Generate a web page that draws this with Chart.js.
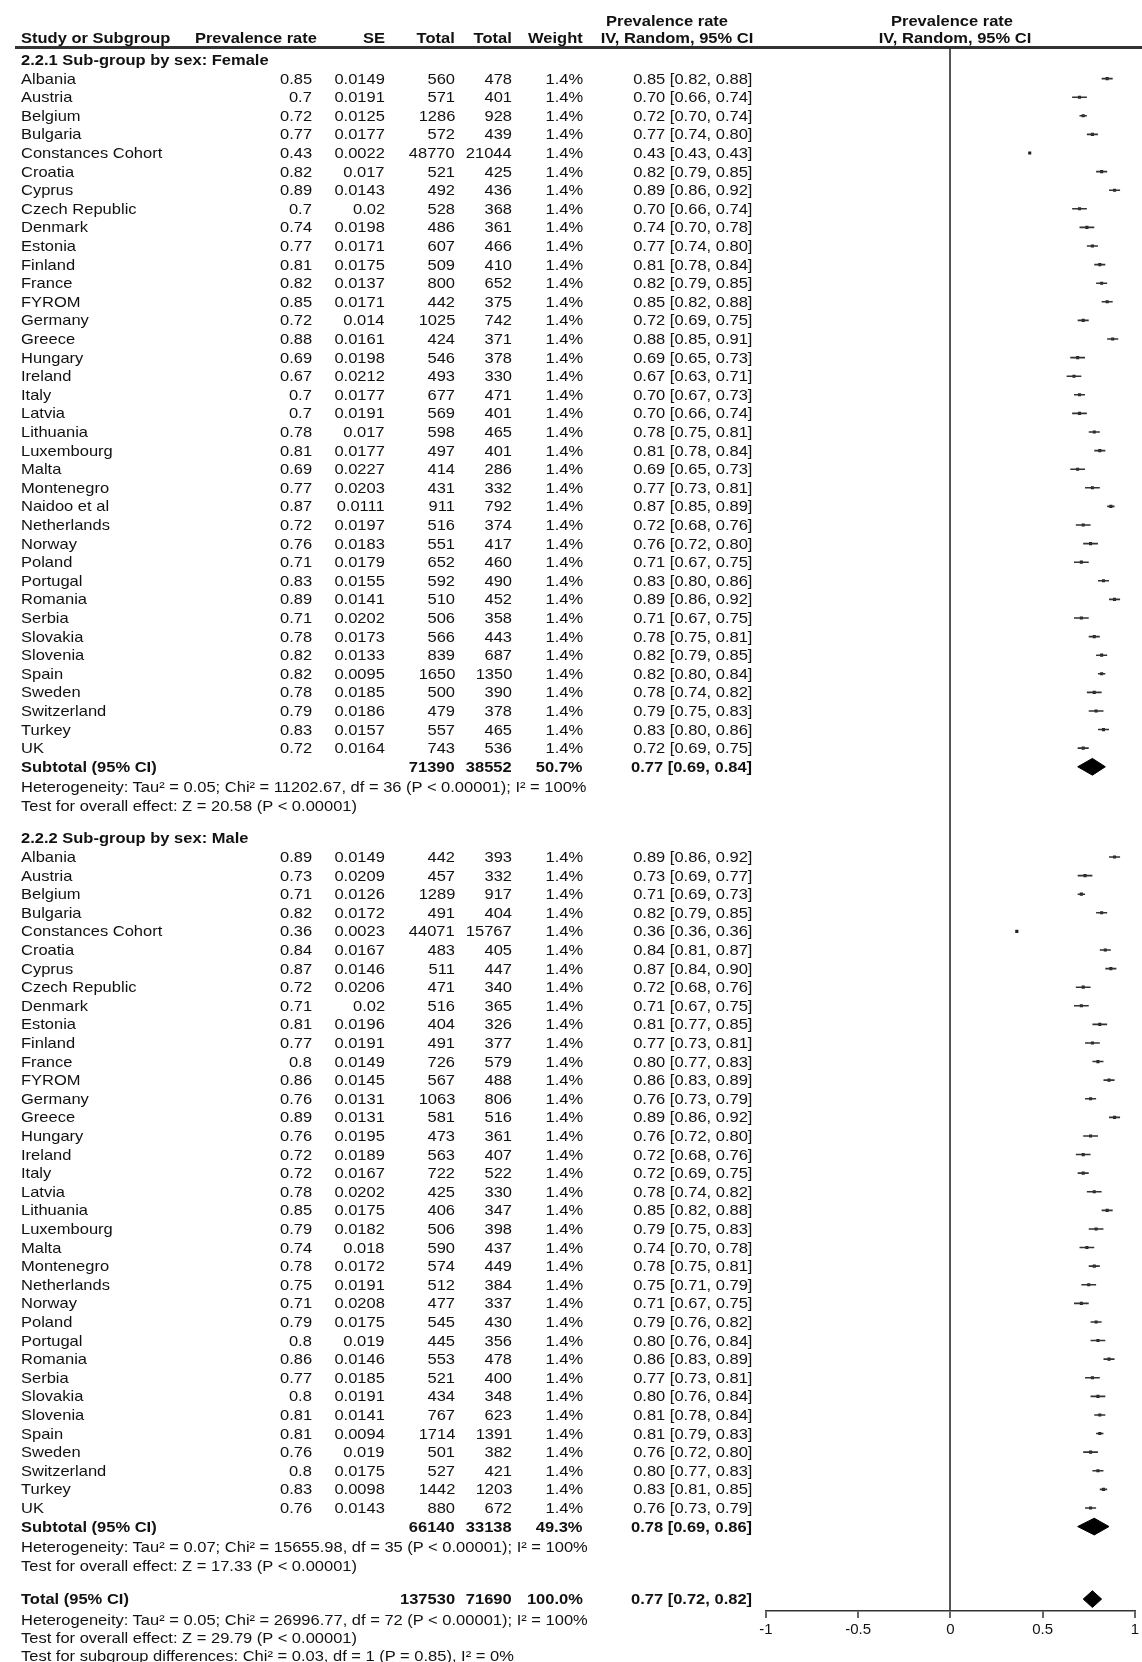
<!DOCTYPE html>
<html>
<head>
<meta charset="utf-8">
<script src="https://cdn.jsdelivr.net/npm/chart.js"></script>
<style>
  html, body { margin: 0; padding: 0; background: #fff; }
  body { width: 1142px; height: 1662px; overflow: hidden; position: relative; }
  #forest { position: absolute; left: 0; top: 0; }
  #labels { position: absolute; left: 0; top: 0; width: 1142px; height: 1662px; }
  .t { position: absolute; white-space: nowrap; height: 20px; line-height: 20px;
       font-family: "Liberation Sans", Arial, sans-serif; font-size: 15px; color: #111; }
  .b { font-weight: bold; }
  #rule { position: absolute; left: 15px; top: 46px; width: 1127px; height: 3px; background: #333; }
</style>
</head>
<body>
<canvas id="forest" width="1142" height="1662"></canvas>
<div id="rule"></div>
<div id="labels"></div>
<script>
// ---- data ----
const femaleStudies = ['Albania','Austria','Belgium','Bulgaria','Constances Cohort','Croatia','Cyprus','Czech Republic','Denmark','Estonia','Finland','France','FYROM','Germany','Greece','Hungary','Ireland','Italy','Latvia','Lithuania','Luxembourg','Malta','Montenegro','Naidoo et al','Netherlands','Norway','Poland','Portugal','Romania','Serbia','Slovakia','Slovenia','Spain','Sweden','Switzerland','Turkey','UK'];
const femaleRate = [0.85,0.7,0.72,0.77,0.43,0.82,0.89,0.7,0.74,0.77,0.81,0.82,0.85,0.72,0.88,0.69,0.67,0.7,0.7,0.78,0.81,0.69,0.77,0.87,0.72,0.76,0.71,0.83,0.89,0.71,0.78,0.82,0.82,0.78,0.79,0.83,0.72];
const femaleSE = [0.0149,0.0191,0.0125,0.0177,0.0022,0.017,0.0143,0.02,0.0198,0.0171,0.0175,0.0137,0.0171,0.014,0.0161,0.0198,0.0212,0.0177,0.0191,0.017,0.0177,0.0227,0.0203,0.0111,0.0197,0.0183,0.0179,0.0155,0.0141,0.0202,0.0173,0.0133,0.0095,0.0185,0.0186,0.0157,0.0164];
const femaleTotalA = [560,571,1286,572,48770,521,492,528,486,607,509,800,442,1025,424,546,493,677,569,598,497,414,431,911,516,551,652,592,510,506,566,839,1650,500,479,557,743];
const femaleTotalB = [478,401,928,439,21044,425,436,368,361,466,410,652,375,742,371,378,330,471,401,465,401,286,332,792,374,417,460,490,452,358,443,687,1350,390,378,465,536];
const femaleWeight = [1.4,1.4,1.4,1.4,1.4,1.4,1.4,1.4,1.4,1.4,1.4,1.4,1.4,1.4,1.4,1.4,1.4,1.4,1.4,1.4,1.4,1.4,1.4,1.4,1.4,1.4,1.4,1.4,1.4,1.4,1.4,1.4,1.4,1.4,1.4,1.4,1.4];
const femaleLow = [0.82,0.66,0.70,0.74,0.43,0.79,0.86,0.66,0.70,0.74,0.78,0.79,0.82,0.69,0.85,0.65,0.63,0.67,0.66,0.75,0.78,0.65,0.73,0.85,0.68,0.72,0.67,0.80,0.86,0.67,0.75,0.79,0.80,0.74,0.75,0.80,0.69];
const femaleHigh = [0.88,0.74,0.74,0.80,0.43,0.85,0.92,0.74,0.78,0.80,0.84,0.85,0.88,0.75,0.91,0.73,0.71,0.73,0.74,0.81,0.84,0.73,0.81,0.89,0.76,0.80,0.75,0.86,0.92,0.75,0.81,0.85,0.84,0.82,0.83,0.86,0.75];

const maleStudies = ['Albania','Austria','Belgium','Bulgaria','Constances Cohort','Croatia','Cyprus','Czech Republic','Denmark','Estonia','Finland','France','FYROM','Germany','Greece','Hungary','Ireland','Italy','Latvia','Lithuania','Luxembourg','Malta','Montenegro','Netherlands','Norway','Poland','Portugal','Romania','Serbia','Slovakia','Slovenia','Spain','Sweden','Switzerland','Turkey','UK'];
const maleRate = [0.89,0.73,0.71,0.82,0.36,0.84,0.87,0.72,0.71,0.81,0.77,0.8,0.86,0.76,0.89,0.76,0.72,0.72,0.78,0.85,0.79,0.74,0.78,0.75,0.71,0.79,0.8,0.86,0.77,0.8,0.81,0.81,0.76,0.8,0.83,0.76];
const maleSE = [0.0149,0.0209,0.0126,0.0172,0.0023,0.0167,0.0146,0.0206,0.02,0.0196,0.0191,0.0149,0.0145,0.0131,0.0131,0.0195,0.0189,0.0167,0.0202,0.0175,0.0182,0.018,0.0172,0.0191,0.0208,0.0175,0.019,0.0146,0.0185,0.0191,0.0141,0.0094,0.019,0.0175,0.0098,0.0143];
const maleTotalA = [442,457,1289,491,44071,483,511,471,516,404,491,726,567,1063,581,473,563,722,425,406,506,590,574,512,477,545,445,553,521,434,767,1714,501,527,1442,880];
const maleTotalB = [393,332,917,404,15767,405,447,340,365,326,377,579,488,806,516,361,407,522,330,347,398,437,449,384,337,430,356,478,400,348,623,1391,382,421,1203,672];
const maleWeight = [1.4,1.4,1.4,1.4,1.4,1.4,1.4,1.4,1.4,1.4,1.4,1.4,1.4,1.4,1.4,1.4,1.4,1.4,1.4,1.4,1.4,1.4,1.4,1.4,1.4,1.4,1.4,1.4,1.4,1.4,1.4,1.4,1.4,1.4,1.4,1.4];
const maleLow = [0.86,0.69,0.69,0.79,0.36,0.81,0.84,0.68,0.67,0.77,0.73,0.77,0.83,0.73,0.86,0.72,0.68,0.69,0.74,0.82,0.75,0.70,0.75,0.71,0.67,0.76,0.76,0.83,0.73,0.76,0.78,0.79,0.72,0.77,0.81,0.73];
const maleHigh = [0.92,0.77,0.73,0.85,0.36,0.87,0.90,0.76,0.75,0.85,0.81,0.83,0.89,0.79,0.92,0.80,0.76,0.75,0.82,0.88,0.83,0.78,0.81,0.79,0.75,0.82,0.84,0.89,0.81,0.84,0.84,0.83,0.80,0.83,0.85,0.79];

const groupTitles = ['2.2.1 Sub-group by sex: Female', '2.2.2 Sub-group by sex: Male'];
const subtotalEst = [0.77, 0.78];
const subtotalLow = [0.69, 0.69];
const subtotalHigh = [0.84, 0.86];
const subtotalTotalA = [71390, 66140];
const subtotalTotalB = [38552, 33138];
const subtotalWeight = ['50.7%', '49.3%'];
const heterogeneityText = [
  'Heterogeneity: Tau² = 0.05; Chi² = 11202.67, df = 36 (P < 0.00001); I² = 100%',
  'Heterogeneity: Tau² = 0.07; Chi² = 15655.98, df = 35 (P < 0.00001); I² = 100%'
];
const effectText = [
  'Test for overall effect: Z = 20.58 (P < 0.00001)',
  'Test for overall effect: Z = 17.33 (P < 0.00001)'
];
const totalEst = 0.77, totalLow = 0.72, totalHigh = 0.82;
const totalA = 137530, totalB = 71690, totalWeight = '100.0%';
const totalNotes = [
  'Heterogeneity: Tau² = 0.05; Chi² = 26996.77, df = 72 (P < 0.00001); I² = 100%',
  'Test for overall effect: Z = 29.79 (P < 0.00001)',
  'Test for subgroup differences: Chi² = 0.03, df = 1 (P = 0.85), I² = 0%'
];
const xTicks = [-1, -0.5, 0, 0.5, 1];
const xTickLabels = ['-1', '-0.5', '0', '0.5', '1'];

// ---- row layout (row units, 0 = first subgroup title) ----
const femaleStart = 1, femaleSub = 38, femaleHet = 39.1, femaleTest = 40.1;
const maleHead = 41.85, maleStart = 42.85, maleSub = 78.85, maleHet = 79.95, maleTest = 80.95;
const totalRow = 82.75, totalNoteRows = [83.85, 84.85, 85.8];
const headRow1 = -2.1, headRow2 = -1.18;
const diamondHalf = 0.45;

const femaleRows = femaleStudies.map((s, i) => femaleStart + i);
const maleRows = maleStudies.map((s, i) => maleStart + i);

const ciData = [];
const pointData = [];
function addStudies(rate, low, high, rows) {
  rows.forEach((r, i) => {
    ciData.push({x: low[i], y: r}, {x: high[i], y: r}, {x: high[i], y: null});
    pointData.push({x: rate[i], y: r});
  });
}
addStudies(femaleRate, femaleLow, femaleHigh, femaleRows);
addStudies(maleRate, maleLow, maleHigh, maleRows);

function diamond(est, lo, hi, r) {
  return {
    data: [{x: lo, y: r}, {x: est, y: r - diamondHalf}, {x: hi, y: r}, {x: est, y: r + diamondHalf}, {x: lo, y: r}],
    showLine: true, fill: 'shape', borderColor: '#000', backgroundColor: '#000',
    borderWidth: 1, pointRadius: 0
  };
}

const chart = new Chart(document.getElementById('forest'), {
  type: 'scatter',
  data: {
    datasets: [
      { data: ciData, showLine: true, spanGaps: false, borderColor: '#333', borderWidth: 1.6, pointRadius: 0 },
      { data: pointData, pointStyle: 'rect', pointRadius: 2.2, backgroundColor: '#222', borderWidth: 0 },
      diamond(subtotalEst[0], subtotalLow[0], subtotalHigh[0], femaleSub),
      diamond(subtotalEst[1], subtotalLow[1], subtotalHigh[1], maleSub),
      diamond(totalEst, totalLow, totalHigh, totalRow)
    ]
  },
  options: {
    responsive: false,
    animation: false,
    layout: { padding: { left: 766, right: 2, top: 48, bottom: 15 } },
    plugins: { legend: { display: false }, tooltip: { enabled: false } },
    scales: {
      x: {
        type: 'linear', min: -1, max: 1,
        afterBuildTicks: s => { s.ticks = xTicks.map(v => ({ value: v })); },
        afterFit: s => { s.height = 36; },
        ticks: {
          autoSkip: false, maxRotation: 0, padding: 3, color: '#111',
          font: { family: 'Liberation Sans', size: 15 },
          callback: (v, i) => xTickLabels[i]
        },
        grid: {
          drawOnChartArea: true,
          color: c => (c.tick && c.tick.value === 0) ? '#555' : 'rgba(0,0,0,0)',
          lineWidth: 2,
          tickColor: '#333', tickWidth: 1.5, tickLength: 7
        },
        border: { display: true, color: '#333', width: 1.5 }
      },
      y: { type: 'linear', reverse: true, min: -0.645, max: 83.39, display: false }
    }
  }
});

// ---- table text, placed with the chart's y scale ----
const W = 1142;
const yScale = chart.scales.y;
const box = document.getElementById('labels');
function put(txt, x, row, align, bold) {
  const d = document.createElement('div');
  d.className = 't' + (bold ? ' b' : '');
  d.textContent = txt;
  d.style.top = (yScale.getPixelForValue(row) - 10) + 'px';
  if (align === 'right') {
    d.style.right = (W - x) + 'px';
    d.style.transformOrigin = 'right center';
    d.style.transform = 'scaleX(1.1)';
  } else if (align === 'center') {
    d.style.left = x + 'px';
    d.style.transformOrigin = 'center center';
    d.style.transform = 'translateX(-50%) scaleX(1.1)';
  } else {
    d.style.left = x + 'px';
    d.style.transformOrigin = 'left center';
    d.style.transform = 'scaleX(1.1)';
  }
  box.appendChild(d);
}
const colName = 21, colRate = 312, colSE = 385, colA = 455, colB = 512, colW = 583, colCI = 752;
const ci = (e, l, h) => e.toFixed(2) + ' [' + l.toFixed(2) + ', ' + h.toFixed(2) + ']';

// header
put('Study or Subgroup', colName, headRow2, 'left', true);
put('Prevalence rate', 317, headRow2, 'right', true);
put('SE', colSE, headRow2, 'right', true);
put('Total', colA, headRow2, 'right', true);
put('Total', colB, headRow2, 'right', true);
put('Weight', colW, headRow2, 'right', true);
put('Prevalence rate', 667, headRow1, 'center', true);
put('IV, Random, 95% CI', 677, headRow2, 'center', true);
put('Prevalence rate', 952, headRow1, 'center', true);
put('IV, Random, 95% CI', 955, headRow2, 'center', true);

function studyRows(names, rate, se, a, b, w, lo, hi, rows) {
  names.forEach((n, i) => {
    const r = rows[i];
    put(n, colName, r, 'left');
    put(String(rate[i]), colRate, r, 'right');
    put(String(se[i]), colSE, r, 'right');
    put(String(a[i]), colA, r, 'right');
    put(String(b[i]), colB, r, 'right');
    put(w[i].toFixed(1) + '%', colW, r, 'right');
    put(ci(rate[i], lo[i], hi[i]), colCI, r, 'right');
  });
}
function subtotal(g, row, hetRow, testRow) {
  put('Subtotal (95% CI)', colName, row, 'left', true);
  put(String(subtotalTotalA[g]), colA, row, 'right', true);
  put(String(subtotalTotalB[g]), colB, row, 'right', true);
  put(subtotalWeight[g], colW, row, 'right', true);
  put(ci(subtotalEst[g], subtotalLow[g], subtotalHigh[g]), colCI, row, 'right', true);
  put(heterogeneityText[g], colName, hetRow, 'left');
  put(effectText[g], colName, testRow, 'left');
}

put(groupTitles[0], colName, 0, 'left', true);
studyRows(femaleStudies, femaleRate, femaleSE, femaleTotalA, femaleTotalB, femaleWeight, femaleLow, femaleHigh, femaleRows);
subtotal(0, femaleSub, femaleHet, femaleTest);

put(groupTitles[1], colName, maleHead, 'left', true);
studyRows(maleStudies, maleRate, maleSE, maleTotalA, maleTotalB, maleWeight, maleLow, maleHigh, maleRows);
subtotal(1, maleSub, maleHet, maleTest);

put('Total (95% CI)', colName, totalRow, 'left', true);
put(String(totalA), colA, totalRow, 'right', true);
put(String(totalB), colB, totalRow, 'right', true);
put(totalWeight, colW, totalRow, 'right', true);
put(ci(totalEst, totalLow, totalHigh), colCI, totalRow, 'right', true);
totalNotes.forEach((t, i) => put(t, colName, totalNoteRows[i], 'left'));
</script>
</body>
</html>
